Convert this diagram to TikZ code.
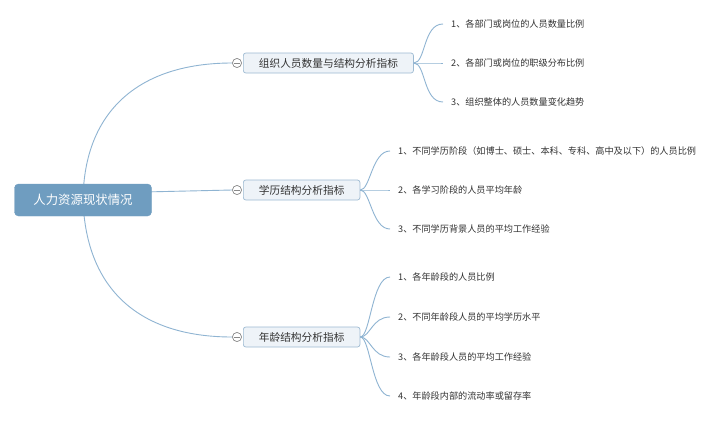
\documentclass[tikz,border=0pt]{standalone}
\usepackage{fontspec}
\setmainfont{Noto Sans CJK SC}
\definecolor{rootfill}{HTML}{6F9DC0}
\definecolor{brfill}{HTML}{EEF3F8}
\definecolor{brdraw}{HTML}{9DBAD2}
\definecolor{linkc}{HTML}{8FB4D2}
\definecolor{txt}{HTML}{333333}
\definecolor{circ}{HTML}{8A8A8A}
\tikzset{
  rootbox/.style={draw=rootfill, fill=rootfill, rounded corners=4pt, text=white,
    minimum width=137pt, minimum height=32pt, inner sep=0pt,
    font=\fontsize{12.4}{14}\selectfont},
  brbox/.style={draw=brdraw, fill=brfill, rounded corners=2.5pt, text=txt, anchor=west,
    minimum height=20pt, inner xsep=15.5pt, inner ysep=0pt, line width=0.7pt,
    font=\fontsize{10.7}{12}\selectfont},
  leafbox/.style={anchor=west, text=txt, inner xsep=8pt, inner ysep=2pt,
    font=\fontsize{9.15}{11}\selectfont},
  foldc/.style={circle, draw=circ, fill=white, minimum size=9pt, inner sep=0pt, line width=0.6pt,
    path picture={\draw[circ, line width=0.6pt] ([xshift=-2.7pt]path picture bounding box.center) -- ([xshift=2.7pt]path picture bounding box.center);}},
  link/.style={draw=linkc, line width=0.9pt}
}
\begin{document}
\begin{tikzpicture}[x=1pt,y=-1pt]
\useasboundingbox[fill=white] (0,0) rectangle (720,421);
% root-level connectors (drawn first, behind root)
\coordinate (rc) at (83,200);
\node[foldc] (c1) at (237,63) {};
\node[foldc] (c2) at (237,190) {};
\node[foldc] (c3) at (237,337) {};
\draw[link] (rc) .. controls (84,110) and (140,63) .. (c1.west);
\draw[link] (rc) ++(60,-8) -- (c2.west);
\draw[link] (rc) .. controls (86,290) and (140,337) .. (c3.west);
\node[rootbox] (root) at (83,200) {人力资源现状情况};
\node[foldc] at (237,63) {};
\node[foldc] at (237,190) {};
\node[foldc] at (237,337) {};

% branches
\node[brbox] (b1) at (243,63) {组织人员数量与结构分析指标};
\node[brbox] (b2) at (243,190) {学历结构分析指标};
\node[brbox] (b3) at (243,337) {年龄结构分析指标};

% leaves of b1
\node[leafbox] (l11) at (443,24) {1、各部门或岗位的人员数量比例};
\node[leafbox] (l12) at (443,63) {2、各部门或岗位的职级分布比例};
\node[leafbox] (l13) at (443,102) {3、组织整体的人员数量变化趋势};
% leaves of b2
\node[leafbox] (l21) at (390,151) {1、不同学历阶段（如博士、硕士、本科、专科、高中及以下）的人员比例};
\node[leafbox] (l22) at (390,190) {2、各学习阶段的人员平均年龄};
\node[leafbox] (l23) at (390,229) {3、不同学历背景人员的平均工作经验};
% leaves of b3
\node[leafbox] (l31) at (390,277) {1、各年龄段的人员比例};
\node[leafbox] (l32) at (390,317) {2、不同年龄段人员的平均学历水平};
\node[leafbox] (l33) at (390,357) {3、各年龄段人员的平均工作经验};
\node[leafbox] (l34) at (390,396) {4、年龄段内部的流动率或留存率};

% leaf connectors
\foreach \l in {l11,l12,l13}{
  \draw[link] (b1.east) .. controls ([xshift=12pt]b1.east) and ([xshift=-20pt]\l.west) .. (\l.west);
}
\foreach \l in {l21,l22,l23}{
  \draw[link] (b2.east) .. controls ([xshift=10pt]b2.east) and ([xshift=-18pt]\l.west) .. (\l.west);
}
\foreach \l in {l31,l32,l33,l34}{
  \draw[link] (b3.east) .. controls ([xshift=10pt]b3.east) and ([xshift=-18pt]\l.west) .. (\l.west);
}
\end{tikzpicture}
\end{document}
